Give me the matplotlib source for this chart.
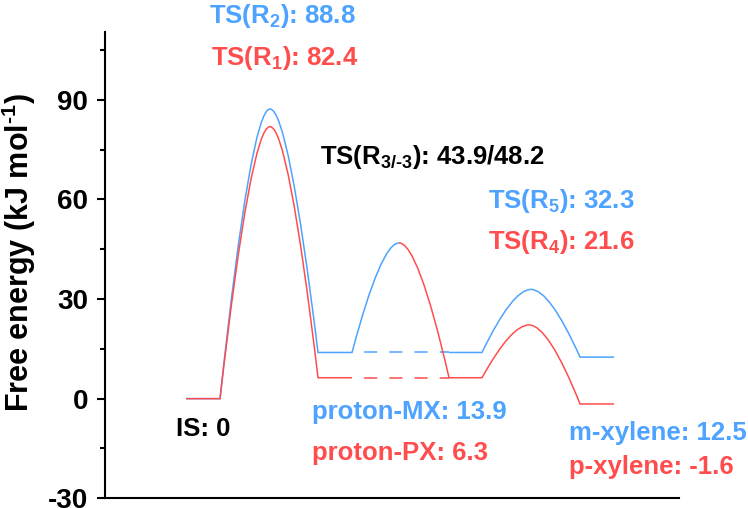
import matplotlib
matplotlib.use('Agg')
import matplotlib.pyplot as plt
from matplotlib.path import Path
from matplotlib.patches import PathPatch

plt.rcParams['font.family'] = ['Liberation Sans', 'DejaVu Sans']
plt.rcParams['font.weight'] = 'bold'
plt.rcParams['axes.labelweight'] = 'bold'
plt.rcParams['axes.unicode_minus'] = False
plt.rcParams['mathtext.fontset'] = 'custom'
plt.rcParams['mathtext.rm'] = 'Liberation Sans:bold'
plt.rcParams['mathtext.it'] = 'Liberation Sans:bold'
plt.rcParams['mathtext.bf'] = 'Liberation Sans:bold'

BLUE = '#4DA3FF'
RED = '#FF4D4D'

# posiciones en la coordenada de reaccion
x_is = (8.1, 11.5)
x_ts1 = 16.5
x_int1 = (21.3, 24.7)
x_ts3 = 29.4
x_int2 = (34.4, 37.7)
x_ts5 = 42.6
x_ts4 = 42.4
x_fs = (47.5, 50.9)

# energias libres (kJ/mol)
E_is = 0.0
E_ts2 = 87.2
E_ts1 = 81.9
E_mx = 13.9
E_px = 6.3
E_ts3 = 46.9
E_ts5 = 32.9
E_ts4 = 22.2
E_mxyl = 12.5
E_pxyl = -1.6

y_ticks = [-30, 0, 30, 60, 90]
y_tick_labels = ['-30', '0', '30', '60', '90']
y_minor = [-15, 15, 45, 75, 105]

CTRL = 0.62


def rise(x0, y0, xp, yp):
    return [(x0 + CTRL * (xp - x0), yp), (xp, yp)], [Path.CURVE3, Path.CURVE3]


def fall(xp, yp, x1, y1):
    return [(xp + (1 - CTRL) * (x1 - xp), yp), (x1, y1)], [Path.CURVE3, Path.CURVE3]


def build(parts):
    verts, codes = [], []
    for v, c in parts:
        verts += v
        codes += c
    return Path(verts, codes)


M, L = Path.MOVETO, Path.LINETO

blue_path = build([
    ([(x_is[0], E_is), (x_is[1], E_is)], [M, L]),
    rise(x_is[1], E_is, x_ts1, E_ts2),
    fall(x_ts1, E_ts2, x_int1[0], E_mx),
    ([(x_int1[1], E_mx)], [L]),
    rise(x_int1[1], E_mx, x_ts3, E_ts3),
    ([(x_int2[0], E_mx), (x_int2[1], E_mx)], [M, L]),
    rise(x_int2[1], E_mx, x_ts5, E_ts5),
    fall(x_ts5, E_ts5, x_fs[0], E_mxyl),
    ([(x_fs[1], E_mxyl)], [L]),
])

red_path = build([
    ([(x_is[0], E_is), (x_is[1], E_is)], [M, L]),
    rise(x_is[1], E_is, x_ts1, E_ts1),
    fall(x_ts1, E_ts1, x_int1[0], E_px),
    ([(x_int1[1], E_px)], [L]),
    ([(x_ts3, E_ts3)], [M]),
    fall(x_ts3, E_ts3, x_int2[0], E_px),
    ([(x_int2[1], E_px)], [L]),
    rise(x_int2[1], E_px, x_ts4, E_ts4),
    fall(x_ts4, E_ts4, x_fs[0], E_pxyl),
    ([(x_fs[1], E_pxyl)], [L]),
])

fig = plt.figure(figsize=(7.48, 5.08), dpi=100)
ax = fig.add_axes([0.1404, 0.0191, 0.7674, 0.918])

ax.add_patch(PathPatch(blue_path, fill=False, edgecolor=BLUE, lw=1.1, zorder=2))
ax.add_patch(PathPatch(red_path, fill=False, edgecolor=RED, lw=1.1, zorder=3))

# lineas discontinuas entre intermedios
ax.plot([x_int1[1], x_int2[0]], [E_mx, E_mx], color=BLUE, lw=1.1,
        linestyle=(8.6, (8.6, 7.9)), zorder=2)
ax.plot([x_int1[1], x_int2[0]], [E_px, E_px], color=RED, lw=1.1,
        linestyle=(8.6, (8.6, 7.9)), zorder=2)

fs = 18.5
ax.text(10.4, 113.2, r'TS(R$_2$): 88.8', color=BLUE, fontsize=fs)
ax.text(10.6, 100.4, r'TS(R$_1$): 82.4', color=RED, fontsize=fs)
ax.text(21.5, 70.5, r'TS(R$_{3/\text{-}3}$): 43.9/48.2', color='black', fontsize=fs)
ax.text(38.3, 57.3, r'TS(R$_5$): 32.3', color=BLUE, fontsize=fs)
ax.text(38.3, 45.0, r'TS(R$_4$): 21.6', color=RED, fontsize=fs)
ax.text(7.1, -11.3, 'IS: 0', color='black', fontsize=fs)
ax.text(20.7, -6.0, 'proton-MX: 13.9', color=BLUE, fontsize=fs)
ax.text(20.7, -18.6, 'proton-PX: 6.3', color=RED, fontsize=fs)
ax.text(46.4, -12.4, 'm-xylene: 12.5', color=BLUE, fontsize=fs)
ax.text(46.4, -22.8, 'p-xylene: -1.6', color=RED, fontsize=fs)

ax.set_xlim(0, 57.4)
ax.set_ylim(-30, 110.4)
ax.set_yticks(y_ticks, y_tick_labels, fontsize=20, fontweight='bold')
ax.set_yticks(y_minor, minor=True)
ax.set_xticks([])
ax.spines['top'].set_visible(False)
ax.spines['right'].set_visible(False)
ax.spines['left'].set_linewidth(1.5)
ax.spines['bottom'].set_linewidth(1.5)
ax.tick_params(axis='y', which='major', length=6, width=1.5, pad=6)
ax.tick_params(axis='y', which='minor', length=3.6, width=1.5)
ax.set_ylabel(r'Free energy (kJ mol$^{\text{-1}}$)', fontsize=22,
              fontweight='bold')
ax.yaxis.set_label_coords(-0.117, 0.527)

plt.savefig('out.png', dpi=100)
